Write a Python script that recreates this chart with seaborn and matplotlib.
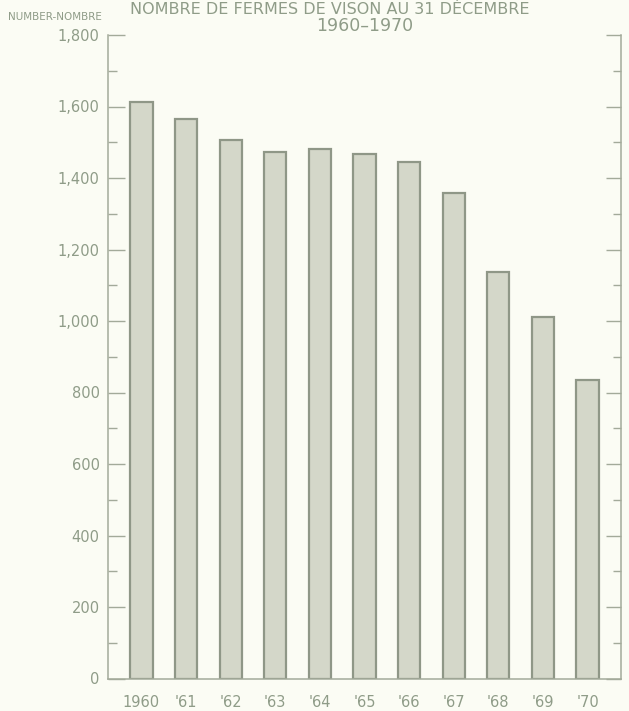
import matplotlib
matplotlib.use("Agg")
import matplotlib.pyplot as plt
import seaborn as sns
import pandas as pd
from matplotlib.ticker import MultipleLocator, FuncFormatter

years = ["1960", "'61", "'62", "'63", "'64", "'65", "'66", "'67", "'68", "'69", "'70"]
farms = [1612, 1564, 1505, 1472, 1481, 1467, 1446, 1357, 1138, 1012, 834]

title_top = "NOMBRE DE FERMES DE VISON AU 31 DÉCEMBRE"
title_sub = "1960–1970"
unit_label = "NUMBER-NOMBRE"

bg = "#fbfcf4"
txt = "#8f9c88"
face = "#d4d7c9"
edge = "#8f9787"
spine = "#a3aa9a"

sns.set_theme(style="white")
plt.rcParams['font.family'] = ['DejaVu Sans']

df = pd.DataFrame({"year": years, "farms": farms})

fig = plt.figure(figsize=(6.29, 7.11), dpi=100, facecolor=bg)
ax = fig.add_axes([108/629, 1 - 678.5/711, (621 - 108)/629, (678.5 - 35)/711])
ax.set_facecolor(bg)

sns.barplot(data=df, x="year", y="farms", order=years, color=face, saturation=1,
            width=0.5, edgecolor=edge, linewidth=1.6, ax=ax)

ax.set_xlim(-0.75, 10.75)
ax.set_ylim(0, 1800)
ax.set_xlabel("")
ax.set_ylabel("")

ax.yaxis.set_major_locator(MultipleLocator(200))
ax.yaxis.set_minor_locator(MultipleLocator(100))
ax.yaxis.set_major_formatter(FuncFormatter(lambda v, p: f"{int(v):,}"))

for s in ["left", "right", "bottom"]:
    ax.spines[s].set_visible(True)
    ax.spines[s].set_color(spine)
    ax.spines[s].set_linewidth(1.1)
ax.spines["top"].set_visible(False)

ax.tick_params(axis="y", which="both", left=True, right=True, direction="in",
               color=spine, width=1.0, labelcolor=txt, labelsize=10.5, pad=6)
ax.tick_params(axis="y", which="major", length=12)
ax.tick_params(axis="y", which="minor", length=6.5)
ax.tick_params(axis="x", length=0, labelcolor=txt, labelsize=10.5, pad=12)
for t in ax.yaxis.get_major_ticks():
    t.tick2line.set_markersize(11)
for t in ax.yaxis.get_minor_ticks():
    t.tick2line.set_markersize(5.5)

fig.text(130/629, 1 - 14/711, title_top, ha="left", va="baseline", fontsize=11.5, color=txt)
fig.text(365/629, 1 - 26/711, title_sub, ha="center", va="center", fontsize=12.5, color=txt)
fig.text(8/629, 1 - 17/711, unit_label, ha="left", va="center", fontsize=7.5, color=txt)

fig.savefig("out.png", dpi=100, facecolor=bg)
